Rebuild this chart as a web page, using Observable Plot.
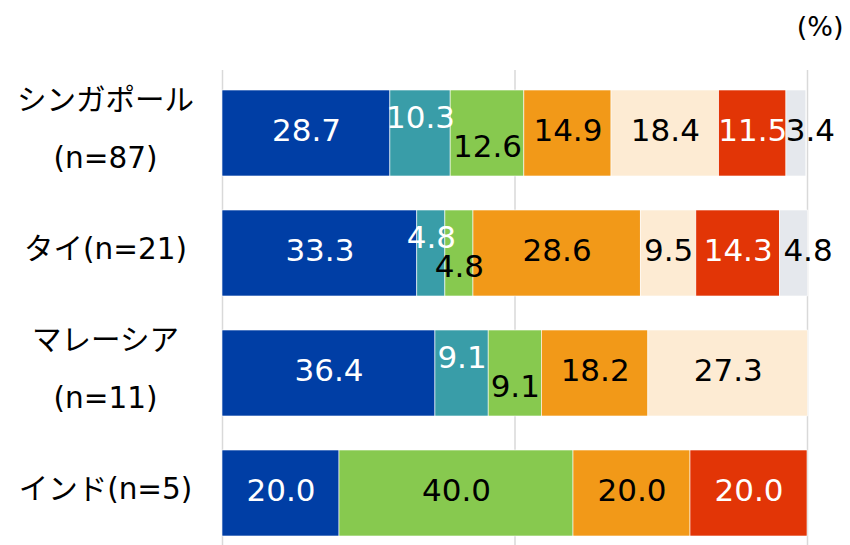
<!DOCTYPE html>
<html>
<head>
<meta charset="utf-8">
<script src="https://cdn.jsdelivr.net/npm/d3@7"></script>
<script src="https://cdn.jsdelivr.net/npm/@observablehq/plot@0.6"></script>
<style>
  html, body { margin: 0; padding: 0; background: #fff; }
  #chart svg { display: block; }
</style>
</head>
<body>
<div id="chart"></div>
<script>
// Countries (row labels, with respondent counts)
const countries = ["シンガポール\n(n=87)", "タイ(n=21)", "マレーシア\n(n=11)", "インド(n=5)"];

// Response categories, in stacking order
const categories = ["c1", "c2", "c3", "c4", "c5", "c6", "c7"];
const colors = ["#003ea5", "#399da8", "#87c94f", "#f29918", "#fdebd3", "#e23506", "#e5e8ed"];
const labelColors = ["#fff", "#fff", "#000", "#000", "#000", "#fff", "#000"];

// Shares (%) per country, one value per category
const singapore = [28.7, 10.3, 12.6, 14.9, 18.4, 11.5, 3.4];
const thailand  = [33.3, 4.8, 4.8, 28.6, 9.5, 14.3, 4.8];
const malaysia  = [36.4, 9.1, 9.1, 18.2, 27.3, 0, 0];
const india     = [20.0, 0, 40.0, 20.0, 0, 20.0, 0];

const series = [singapore, thailand, malaysia, india];

// Long table with cumulative start/end for each segment
const rows = [];
series.forEach((vals, i) => {
  let acc = 0;
  vals.forEach((v, j) => {
    rows.push({country: countries[i], cat: categories[j], ci: j, value: v, x1: acc, x2: acc + v});
    acc += v;
  });
});
const shown = rows.filter(d => d.value > 0);

// narrow teal/green segments get their labels nudged up/down so they don't collide
const narrow = d => d.value < 13;
const isUp = d => d.ci === 1 && narrow(d);
const isDown = d => d.ci === 2 && narrow(d);
const isTail = d => d.ci === 6;
const isPlain = d => !isUp(d) && !isDown(d) && !isTail(d);

const fmt = d => d.value.toFixed(1);
const font = "DejaVu Sans, 'Noto Sans CJK JP', sans-serif";

const labelMark = (test, extra) => Plot.text(shown.filter(test), {
  x: d => (d.x1 + d.x2) / 2,
  y: "country",
  text: fmt,
  fill: d => labelColors[d.ci],
  fontSize: 31,
  ...extra
});

const chart = Plot.plot({
  width: 850,
  height: 545,
  marginLeft: 222,
  marginRight: 43,
  marginTop: 70,
  marginBottom: 0,
  style: {fontFamily: font, background: "#fff"},
  x: {domain: [0, 100], axis: null},
  y: {domain: countries, axis: null, paddingInner: 0.2875, paddingOuter: 0.112, align: 0.667},
  color: {domain: categories, range: colors},
  marks: [
    Plot.ruleX([0, 50, 100], {stroke: "#d9d9d9", strokeWidth: 1.5}),
    Plot.barX(shown, {x1: "x1", x2: "x2", y: "country", fill: "cat", stroke: "#fff", strokeWidth: 0.6}),
    labelMark(isPlain, {dy: -2}),
    labelMark(isUp, {dy: -15}),
    labelMark(isDown, {dy: 14}),
    labelMark(isTail, {dx: 14, dy: -2}),
    Plot.text(countries, {
      y: d => d,
      text: d => d,
      frameAnchor: "left",
      textAnchor: "middle",
      dx: -117,
      dy: -13,
      lineAnchor: "middle",
      lineHeight: 1.95,
      fontSize: 29.5,
      fill: "#000"
    }),
    Plot.text(["(%)"], {
      frameAnchor: "top-right",
      textAnchor: "end",
      dx: 36,
      dy: -54,
      fontSize: 27,
      letterSpacing: 3,
      fill: "#000"
    })
  ]
});

document.getElementById("chart").appendChild(chart);
</script>
</body>
</html>
